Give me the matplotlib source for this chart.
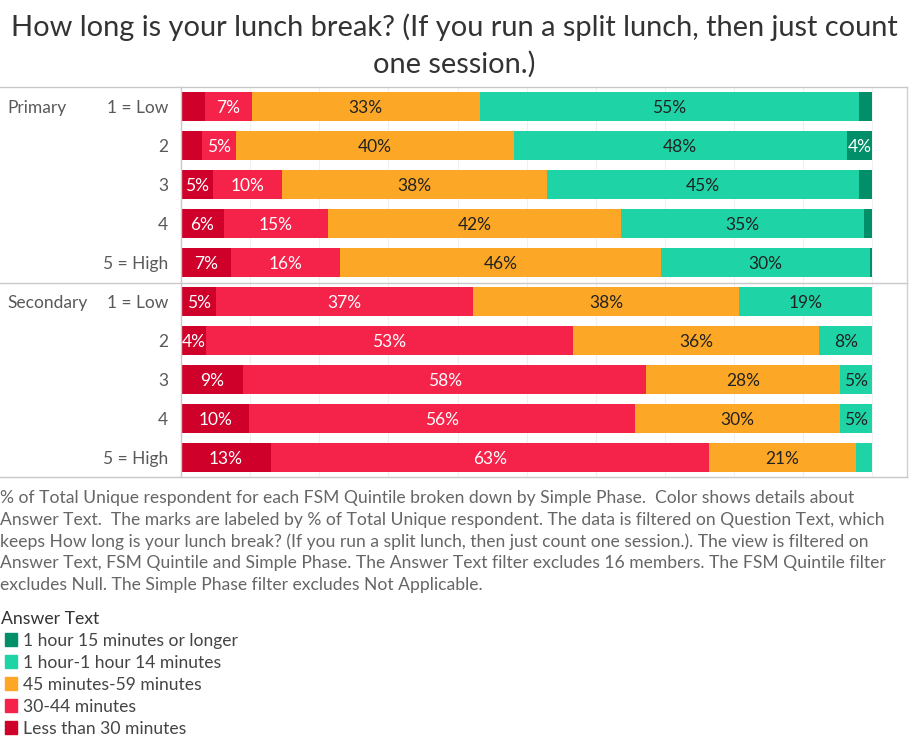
import matplotlib
matplotlib.use("Agg")
import matplotlib.pyplot as plt
from matplotlib.lines import Line2D
from matplotlib.patches import Rectangle
import numpy as np

plt.rcParams['font.family'] = ['Lato', 'DejaVu Sans']

# ---------------- data ----------------
title_lines = ["How long is your lunch break? (If you run a split lunch, then just count",
               "one session.)"]
phases = ["Primary", "Secondary"]
quintiles = ["1 = Low", "2", "3", "4", "5 = High"]
answers = ["Less than 30 minutes", "30-44 minutes", "45 minutes-59 minutes",
           "1 hour-1 hour 14 minutes", "1 hour 15 minutes or longer"]
colors = ["#CF0029", "#F5224A", "#FCA826", "#1ED3A5", "#008F68"]
label_colors = ["white", "white", "#222222", "#222222", "white"]

# % of total per row, columns follow `answers`
primary_vals = [
    [3.4, 6.8, 33.0, 54.8, 2.0],
    [3.0, 5.0, 40.1, 48.2, 3.7],
    [4.6, 10.0, 38.3, 45.2, 1.9],
    [6.2, 15.1, 42.4, 35.1, 1.2],
    [7.2, 15.8, 46.4, 30.2, 0.4],
]
secondary_vals = [
    [5.1, 37.2, 38.4, 19.3, 0.0],
    [3.6, 53.1, 35.6, 7.7, 0.0],
    [9.0, 58.3, 28.0, 4.6, 0.1],
    [9.9, 55.8, 29.6, 4.7, 0.0],
    [13.0, 63.4, 21.2, 2.4, 0.0],
]
# which segment labels are shown (as in the reference)
primary_show = [
    [0, 1, 1, 1, 0],
    [0, 1, 1, 1, 1],
    [1, 1, 1, 1, 0],
    [1, 1, 1, 1, 0],
    [1, 1, 1, 1, 0],
]
secondary_show = [
    [1, 1, 1, 1, 0],
    [1, 1, 1, 1, 0],
    [1, 1, 1, 1, 0],
    [1, 1, 1, 1, 0],
    [1, 1, 1, 0, 0],
]

footnote_lines = [
    "% of Total Unique respondent for each FSM Quintile broken down by Simple Phase.  Color shows details about",
    "Answer Text.  The marks are labeled by % of Total Unique respondent. The data is filtered on Question Text, which",
    "keeps How long is your lunch break? (If you run a split lunch, then just count one session.). The view is filtered on",
    "Answer Text, FSM Quintile and Simple Phase. The Answer Text filter excludes 16 members. The FSM Quintile filter",
    "excludes Null. The Simple Phase filter excludes Not Applicable.",
]
legend_title = "Answer Text"

# ---------------- figure ----------------
W, H = 909, 739
fig = plt.figure(figsize=(W / 100, H / 100), dpi=100)
fig.patch.set_facecolor("white")

def fx(px):
    return px / W

def fy(py):
    return 1 - py / H

ax_left, ax_right, ax_top, ax_bot = 181, 907, 87, 477
ax = fig.add_axes([fx(ax_left), fy(ax_bot), fx(ax_right - ax_left), (ax_bot - ax_top) / H])

all_vals = np.array(primary_vals + secondary_vals)
all_show = np.array(primary_show + secondary_show)
n_rows = all_vals.shape[0]
ypos = np.arange(n_rows)

ax.set_xlim(0, 105)
ax.set_ylim(n_rows - 0.5, -0.5)

for x in range(10, 101, 10):
    ax.axvline(x, color="#F0F0F0", lw=0.8, zorder=0)

left = np.zeros(n_rows)
for j, ans in enumerate(answers):
    w = all_vals[:, j]
    ax.barh(ypos, w, left=left, height=0.74, color=colors[j], edgecolor="none", zorder=2)
    for i in range(n_rows):
        if all_show[i, j] and w[i] > 0:
            ax.text(left[i] + w[i] / 2, ypos[i] + 0.03, f"{int(w[i] + 0.5)}%",
                    ha="center", va="center", fontsize=12.5, color=label_colors[j], zorder=3)
    left += w

ax.set_xticks([])
ax.set_yticks([])
for s in ["top", "bottom", "right"]:
    ax.spines[s].set_visible(False)
ax.spines["left"].set_color("#C8C8C8")
ax.spines["left"].set_linewidth(1.0)

# right border
fig.add_artist(Line2D([fx(907), fx(907)], [fy(87), fy(477)], color="#D0D0D0", lw=1.0))
# horizontal separators spanning the label columns
for py in [87, 283, 477]:
    fig.add_artist(Line2D([0, fx(907)], [fy(py), fy(py)], color="#C8C8C8", lw=1.0))

# row / header labels
for i in range(n_rows):
    yy = 108 + 39 * i
    fig.text(fx(168), fy(yy), quintiles[i % 5], ha="right", va="center",
             fontsize=12.5, color="#595959")
for k, ph in enumerate(phases):
    fig.text(fx(7), fy(108 + 195 * k), ph, ha="left", va="center",
             fontsize=12.5, color="#595959")

# title
for k, line in enumerate(title_lines):
    fig.text(0.5, fy(27 + 37 * k), line, ha="center", va="center", fontsize=20.9,
             color="#333333")

# footnote
for k, line in enumerate(footnote_lines):
    fig.text(0, fy(498.5 + 21.6 * k), line, ha="left", va="center", fontsize=12.6,
             color="#666666")

# legend
fig.text(fx(1), fy(619.5), legend_title, ha="left", va="center", fontsize=12.7, color="#333333")
for k, j in enumerate(range(len(answers) - 1, -1, -1)):
    yy = 639.5 + 22 * k
    fig.add_artist(Rectangle((fx(5), fy(yy + 6.5)), fx(12), 13 / H, color=colors[j],
                             transform=fig.transFigure))
    fig.text(fx(23), fy(yy + 1.5), answers[j], ha="left", va="center", fontsize=12.6, color="#444444")

fig.savefig("out.png", dpi=100, facecolor="white")
